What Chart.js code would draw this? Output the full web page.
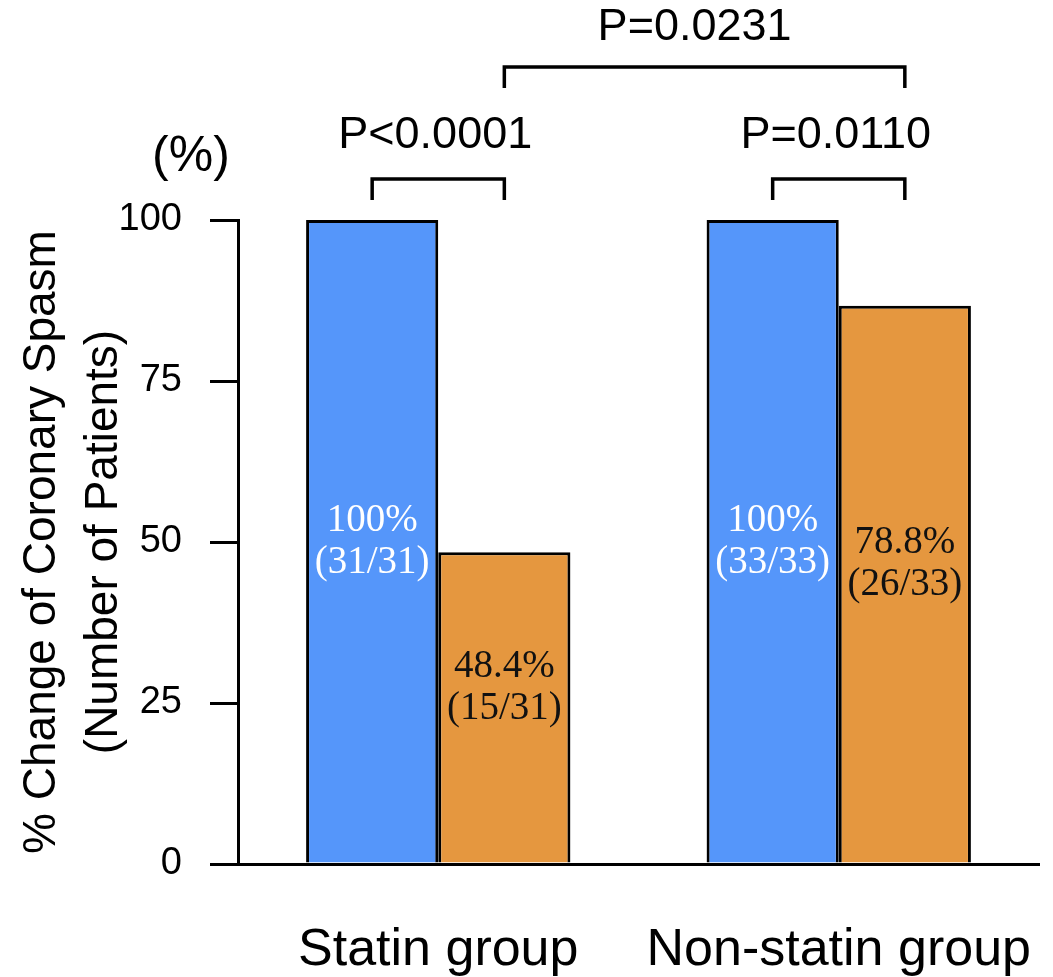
<!DOCTYPE html>
<html>
<head>
<meta charset="utf-8">
<title>Coronary Spasm</title>
<script src="https://cdn.jsdelivr.net/npm/chart.js@4.4.1/dist/chart.umd.min.js"></script>
<style>
  html, body { margin: 0; padding: 0; background: #fff; overflow: hidden; }
  #wrap { width: 1053px; height: 977px; position: relative; }
</style>
</head>
<body>
<div id="wrap"><canvas id="myChart"></canvas></div>
<script>
'use strict';
// ******* Data *******
let groups = ['Statin group', 'Non-statin group'];
let beforeValues = [100, 100];
let afterValues = [48.4, 86.7];
let beforeText = [['100%', '(31/31)'], ['100%', '(33/33)']];
let afterText = [['48.4%', '(15/31)'], ['78.8%', '(26/33)']];
let yTicks = [0, 25, 50, 75, 100];
let pWithin = ['P<0.0001', 'P=0.0110'];
let pBetween = 'P=0.0231';

// ****** Styles ******
let blue = '#5596FA';
let orange = '#E5973F';
let sans = '"Liberation Sans", Arial, sans-serif';
let serif = '"Liberation Serif", "Times New Roman", serif';

// ****** Plugin: labels in bars, brackets, p values ******
let annotate = {
  id: 'annotate',
  afterDatasetsDraw(chart) {
    let ctx = chart.ctx;
    let top = chart.chartArea.top;
    let m0 = chart.getDatasetMeta(0).data;
    let m1 = chart.getDatasetMeta(1).data;

    ctx.save();
    ctx.textAlign = 'center';
    ctx.textBaseline = 'middle';
    ctx.font = '39px ' + serif;

    // text inside bars
    for (let i = 0; i < groups.length; i++) {
      let b = m0[i];
      let mid = (b.y + b.base) / 2;
      ctx.fillStyle = '#ffffff';
      ctx.fillText(beforeText[i][0], b.x, mid - 21);
      ctx.fillText(beforeText[i][1], b.x, mid + 21);

      let a = m1[i];
      mid = (a.y + a.base) / 2 - 20;
      ctx.fillStyle = '#111111';
      ctx.fillText(afterText[i][0], a.x, mid - 21);
      ctx.fillText(afterText[i][1], a.x, mid + 21);
    }

    // brackets
    ctx.strokeStyle = '#000';
    ctx.lineWidth = 3.5;
    function bracket(x1, x2, y, h) {
      ctx.beginPath();
      ctx.moveTo(x1, y + h);
      ctx.lineTo(x1, y);
      ctx.lineTo(x2, y);
      ctx.lineTo(x2, y + h);
      ctx.stroke();
    }

    ctx.font = '45px ' + sans;
    ctx.fillStyle = '#000';
    for (let i = 0; i < groups.length; i++) {
      bracket(m0[i].x, m1[i].x, top - 41, 21);
      ctx.fillText(pWithin[i], (m0[i].x + m1[i].x) / 2 - 3, top - 84);
    }
    bracket(m1[0].x, m1[1].x, top - 153, 21);
    ctx.fillText(pBetween, (m1[0].x + m1[1].x) / 2 - 10, top - 192);

    // unit label
    ctx.font = '50px ' + sans;
    ctx.fillText('(%)', 191, top - 63);
    ctx.restore();
  }
};

// ****** Chart ******
let ctx = document.getElementById('myChart');

let myChartObj = {
  type: 'bar',
  data: {
    labels: groups,
    datasets: [{
      label: 'Before',
      data: beforeValues,
      backgroundColor: blue,
      borderColor: '#000',
      borderWidth: 3,
      borderSkipped: 'bottom'
    },
    {
      label: 'After',
      data: afterValues,
      backgroundColor: orange,
      borderColor: '#000',
      borderWidth: 3,
      borderSkipped: 'bottom'
    }]
  },
  options: {
    responsive: true,
    maintainAspectRatio: false,
    animation: false,
    layout: {
      padding: { top: 220, left: 0, right: 14, bottom: 0 }
    },
    plugins: {
      legend: { display: false },
      tooltip: { enabled: false }
    },
    datasets: {
      bar: { categoryPercentage: 0.66, barPercentage: 1.0 }
    },
    scales: {
      x: {
        grid: { display: false, drawTicks: false },
        border: { display: true, color: '#000', width: 3 },
        ticks: {
          color: '#000',
          padding: 55,
          font: { family: sans, size: 52 }
        },
        afterFit(scale) {
          scale.height = 113;
          scale.paddingLeft = 0;
          scale.paddingRight = 0;
        }
      },
      y: {
        min: 0,
        max: 100,
        afterBuildTicks(scale) {
          scale.ticks = yTicks.map(v => ({ value: v }));
        },
        grid: {
          drawOnChartArea: false,
          drawTicks: true,
          tickLength: 28,
          lineWidth: 3,
          color: '#000'
        },
        border: { display: true, color: '#000', width: 3 },
        ticks: {
          color: '#000',
          padding: 28,
          font: { family: sans, size: 38 }
        },
        title: {
          display: true,
          text: ['% Change of Coronary Spasm', '(Number of Patients)'],
          color: '#000',
          font: { family: sans, size: 46, lineHeight: 1.35 },
          padding: { top: 11, bottom: 0 }
        },
        afterFit(scale) {
          scale.width = 238;
          scale.paddingTop = 0;
          scale.paddingBottom = 0;
        }
      }
    }
  },
  plugins: [annotate]
};

new Chart(ctx, myChartObj);
</script>
</body>
</html>
